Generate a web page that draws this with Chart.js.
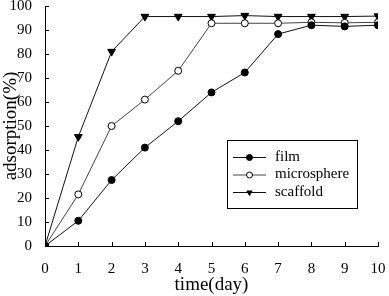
<!DOCTYPE html>
<html>
<head>
<meta charset="utf-8">
<script src="https://cdn.jsdelivr.net/npm/chart.js@4.4.0/dist/chart.umd.min.js"></script>
<style>
  html, body { margin: 0; padding: 0; background: #fff; }
  #wrap { width: 389px; height: 296px; }
</style>
</head>
<body>
<div id="wrap"><canvas id="c"></canvas></div>
<script>
// --- data ---
const days = [0, 1, 2, 3, 4, 5, 6, 7, 8, 9, 10];
const film = [0, 10.5, 27.5, 41, 52, 64, 72.3, 88.3, 92, 91.5, 92];
const microsphere = [0, 21.5, 50, 61, 73, 92.8, 92.8, 92.8, 93.2, 93, 93.2];
const scaffold = [0, 45.5, 81, 95.6, 95.6, 95.6, 96, 95.6, 95.6, 95.6, 95.8];
const xTicks = [0, 1, 2, 3, 4, 5, 6, 7, 8, 9, 10];
const yTicks = [0, 10, 20, 30, 40, 50, 60, 70, 80, 90, 100];

const serif = "'Liberation Serif', 'DejaVu Serif', serif";

function pts(vals) {
    return days.map((d, i) => ({ x: d, y: vals[i] }));
}

// small inward tick marks on both axes
const innerTicks = {
    id: 'innerTicks',
    afterDraw(chart) {
        const ctx = chart.ctx;
        const xs = chart.scales.x, ys = chart.scales.y;
        const a = chart.chartArea;
        ctx.save();
        ctx.strokeStyle = '#000';
        ctx.lineWidth = 1;
        ctx.beginPath();
        xTicks.forEach(t => {
            const px = Math.round(xs.getPixelForValue(t)) + 0.5;
            ctx.moveTo(px, a.bottom);
            ctx.lineTo(px, a.bottom - 4);
        });
        yTicks.forEach(t => {
            const py = Math.round(ys.getPixelForValue(t)) + 0.5;
            ctx.moveTo(a.left, py);
            ctx.lineTo(a.left + 4, py);
        });
        ctx.stroke();
        ctx.restore();
    }
};

// legend box inside the plot
const boxLegend = {
    id: 'boxLegend',
    afterDraw(chart) {
        const ctx = chart.ctx;
        const bx = 227, by = 140, bw = 130, bh = 68;
        ctx.save();
        ctx.lineWidth = 1;
        ctx.fillStyle = '#fff';
        ctx.fillRect(bx, by, bw, bh);
        ctx.strokeStyle = '#000';
        ctx.strokeRect(bx + 0.5, by + 0.5, bw, bh);
        ctx.font = '15px ' + serif;
        ctx.textBaseline = 'middle';
        chart.data.datasets.forEach((ds, i) => {
            const y = by + 17 + i * 17.5;
            ctx.beginPath();
            ctx.strokeStyle = ds.borderColor;
            ctx.moveTo(bx + 6, y + 0.5);
            ctx.lineTo(bx + 39, y + 0.5);
            ctx.stroke();
            ctx.fillStyle = ds.pointBackgroundColor;
            ctx.strokeStyle = '#000';
            Chart.helpers.drawPoint(ctx, {
                pointStyle: ds.pointStyle,
                radius: 3,
                rotation: ds.pointRotation || 0,
                borderWidth: 1
            }, bx + 22.5, y + 0.5);
            ctx.fillStyle = '#000';
            ctx.fillText(ds.label, bx + 48, y);
        });
        ctx.restore();
    }
};

new Chart(document.getElementById('c'), {
    type: 'line',
    data: {
        datasets: [
            {
                label: 'film', data: pts(film),
                borderColor: '#111', borderWidth: 1,
                pointStyle: 'circle', pointRadius: 3.5,
                pointBackgroundColor: '#000', pointBorderColor: '#000'
            },
            {
                label: 'microsphere', data: pts(microsphere),
                borderColor: '#444', borderWidth: 1,
                pointStyle: 'circle', pointRadius: 3.5,
                pointBackgroundColor: '#fff', pointBorderColor: '#000'
            },
            {
                label: 'scaffold', data: pts(scaffold),
                borderColor: '#111', borderWidth: 1,
                pointStyle: 'triangle', pointRotation: 180, pointRadius: 4.5,
                pointBackgroundColor: '#000', pointBorderColor: '#000'
            }
        ]
    },
    options: {
        responsive: true,
        maintainAspectRatio: false,
        animation: false,
        layout: { padding: { top: 6, right: 11, left: 0, bottom: 0 } },
        plugins: {
            legend: { display: false },
            tooltip: { enabled: false }
        },
        scales: {
            x: {
                type: 'linear', min: 0, max: 10,
                afterBuildTicks: s => { s.ticks = xTicks.map(v => ({ value: v })); },
                afterFit: s => { s.height = 50; s.paddingLeft = 0; s.paddingRight = 0; },
                border: { color: '#000', width: 1 },
                grid: { display: false },
                ticks: { color: '#000', font: { family: serif, size: 15 }, padding: 6, maxRotation: 0 },
                title: { display: true, text: 'time(day)', color: '#000', font: { family: serif, size: 19 }, padding: { top: 0, bottom: 0 } }
            },
            y: {
                min: 0, max: 100,
                afterBuildTicks: s => { s.ticks = yTicks.map(v => ({ value: v })); },
                afterFit: s => { s.width = 45; s.paddingTop = 0; s.paddingBottom = 0; },
                border: { color: '#000', width: 1 },
                grid: { display: false },
                ticks: { color: '#000', font: { family: serif, size: 15 }, padding: 5 },
                title: { display: true, text: 'adsorption(%)', color: '#000', font: { family: serif, size: 19 }, padding: 0 }
            }
        }
    },
    plugins: [innerTicks, boxLegend]
});
</script>
</body>
</html>
